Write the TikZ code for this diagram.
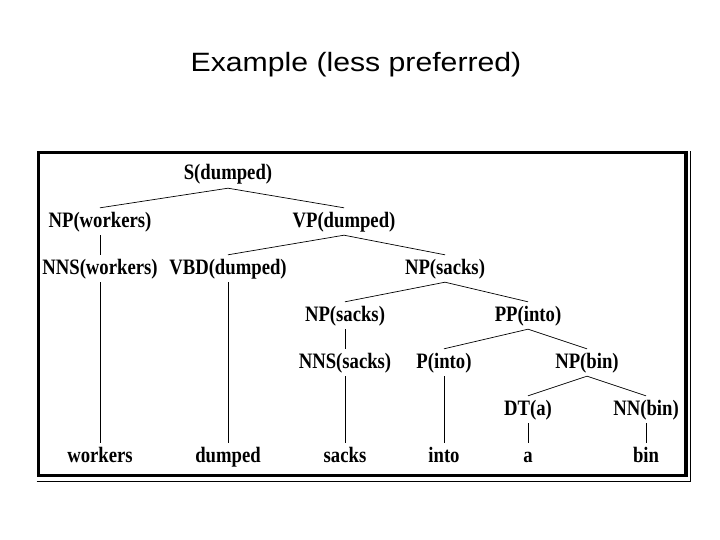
\documentclass[tikz,border=0pt]{standalone}
\usepackage{fontspec}
\usetikzlibrary{positioning}
\newfontfamily\treefont[FakeStretch=0.85]{Liberation Serif Bold}
\newfontfamily\titlefont[FakeStretch=1.14]{Liberation Sans}

\begin{document}
\begin{tikzpicture}[x=1pt,y=-1pt,
    lbl/.style={inner sep=0pt,anchor=base,text height=19pt,text depth=8pt,font=\treefont\fontsize{22}{22}\selectfont},
    br/.style={line width=0.7pt},
]
\fill[white] (0,0) rectangle (720,540);
\useasboundingbox (0,0) rectangle (720,540);

% Title
\node[anchor=base,inner sep=0pt,font=\titlefont\fontsize{26.5}{26.5}\selectfont] (title) at (356,72) {Example (less preferred)};

% Frame
\draw[line width=3.5pt] (38.5,152.5) rectangle (686,475.5);
\draw[line width=1.3pt] (36.7,481.5) -- (690.5,481.5) -- (690.5,151);

% Tree
\node[lbl] (s) at (228,180) {S(dumped)};
\node[lbl] (npw) at (100,227) {NP(workers)};
\node[lbl] (vp) at (344,227) {VP(dumped)};
\node[lbl] (nnsw) at (100,274) {NNS(workers)};
\node[lbl] (vbd) at (228,274) {VBD(dumped)};
\node[lbl] (nps) at (445,274) {NP(sacks)};
\node[lbl] (nps2) at (345,321) {NP(sacks)};
\node[lbl] (pp) at (528,321) {PP(into)};
\node[lbl] (nnss) at (345,368) {NNS(sacks)};
\node[lbl] (pin) at (444,368) {P(into)};
\node[lbl] (npb) at (587,368) {NP(bin)};
\node[lbl] (dt) at (528,415) {DT(a)};
\node[lbl] (nn) at (646,415) {NN(bin)};

% Words
\node[lbl] (w1) at (100,462) {workers};
\node[lbl] (w2) at (228,462) {dumped};
\node[lbl] (w3) at (345,462) {sacks};
\node[lbl] (w4) at (444,462) {into};
\node[lbl] (w5) at (528,462) {a};
\node[lbl] (w6) at (646,462) {bin};

% Connections
\draw[br] (s.south) -- (npw.north); \draw[br] (s.south) -- (vp.north);
\draw[br] (npw.south) -- (nnsw.north);
\draw[br] (vp.south) -- (vbd.north); \draw[br] (vp.south) -- (nps.north);
\draw[br] (nps.south) -- (nps2.north); \draw[br] (nps.south) -- (pp.north);
\draw[br] (nps2.south) -- (nnss.north);
\draw[br] (pp.south) -- (pin.north); \draw[br] (pp.south) -- (npb.north);
\draw[br] (npb.south) -- (dt.north); \draw[br] (npb.south) -- (nn.north);
\draw[br] (nnsw.south) -- (w1.north); \draw[br] (vbd.south) -- (w2.north);
\draw[br] (nnss.south) -- (w3.north); \draw[br] (pin.south) -- (w4.north);
\draw[br] (dt.south) -- (w5.north); \draw[br] (nn.south) -- (w6.north);
\end{tikzpicture}
\end{document}
